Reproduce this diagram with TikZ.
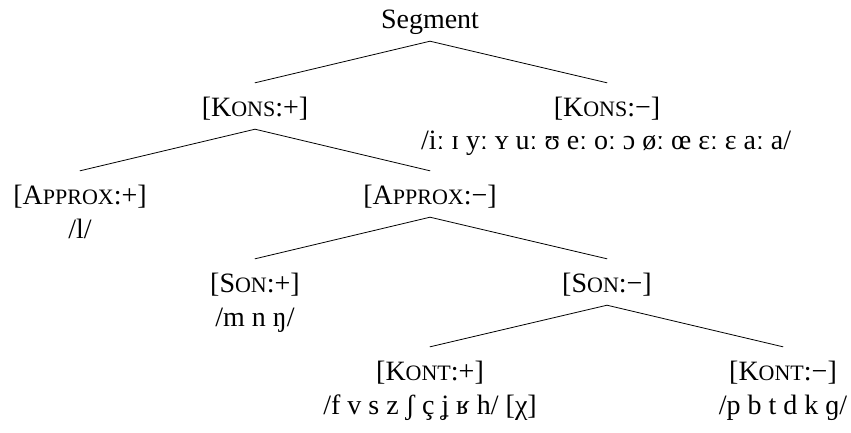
\documentclass[tikz,border=0pt]{standalone}
\usepackage{fontspec}
\setmainfont{Liberation Serif}
\newcommand\smallcap[1]{{\fontsize{22}{22}\selectfont #1}}
\newcommand\fval[3]{[#1\smallcap{#2}:#3]}

\begin{document}
\begin{tikzpicture}[x=1pt,y=-1pt,line cap=round,
  every node/.style={font=\fontsize{28}{32}\selectfont},
  feat/.style={anchor=base,text height=26pt,text depth=6pt,
    inner xsep=0pt,inner ysep=7pt},
  phon/.style={anchor=base,inner sep=0pt},
  branch/.style={line width=.8pt}]
  \useasboundingbox (0,0) rectangle (851,432);

  % Segment splits on consonantal.
  \node[feat] (seg) at (430,28) {Segment};
  \node[feat] (konsp) at (255,116) {\fval{K}{ONS}{+}};
  \node[feat] (konsm) at (607,116) {\fval{K}{ONS}{−}};
  \node[phon] (vowels) at (606,149) {/iː ɪ yː ʏ uː ʊ eː oː ɔ øː œ ɛː ɛ aː a/};
  \draw[branch] (seg.south) -- (konsp.north);
  \draw[branch] (seg.south) -- (konsm.north);

  % Approximant.
  \node[feat] (approxp) at (80,204) {\fval{A}{PPROX}{+}};
  \node[phon] (lat) at (80,238) {/l/};
  \node[feat] (approxm) at (430,204) {\fval{A}{PPROX}{−}};
  \draw[branch] (konsp.south) -- (approxp.north);
  \draw[branch] (konsp.south) -- (approxm.north);

  % Sonorant.
  \node[feat] (sonp) at (255,292) {\fval{S}{ON}{+}};
  \node[phon] (nasals) at (255,326) {/m n ŋ/};
  \node[feat] (sonm) at (607,292) {\fval{S}{ON}{−}};
  \draw[branch] (approxm.south) -- (sonp.north);
  \draw[branch] (approxm.south) -- (sonm.north);

  % Continuant.
  \node[feat] (kontp) at (430,380) {\fval{K}{ONT}{+}};
  \node[phon] (fric) at (430,414) {/f v s z ʃ ç ʝ ʁ h/ [χ]};
  \node[feat] (kontm) at (783,380) {\fval{K}{ONT}{−}};
  \node[phon] (stops) at (783,414) {/p b t d k ɡ/};
  \draw[branch] (sonm.south) -- (kontp.north);
  \draw[branch] (sonm.south) -- (kontm.north);
\end{tikzpicture}
\end{document}
